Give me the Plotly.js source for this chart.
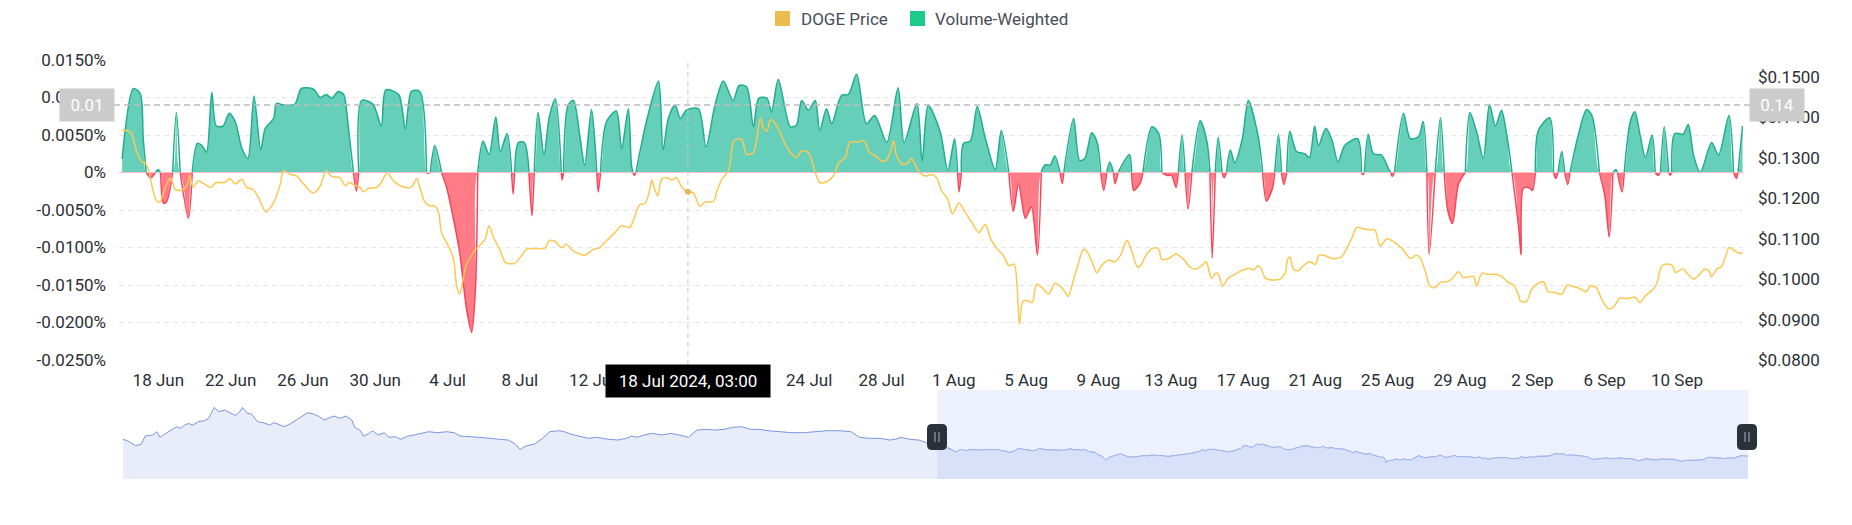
<!DOCTYPE html>
<html><head><meta charset="utf-8">
<script src="https://cdn.plot.ly/plotly-3.0.1.min.js"></script>
<style>html,body{margin:0;padding:0;background:#fff}#chart{width:1852px;height:525px}</style>
</head><body><div id="chart"></div>
<script>
// ---------------- DATA ----------------
const seriesNames = ['DOGE Price', 'Volume-Weighted'];

const vwTimes = [
'2024-06-16 00','2024-06-16 15','2024-06-17 00','2024-06-17 04','2024-06-17 08','2024-06-17 14','2024-06-17 20','2024-06-18 00',
'2024-06-18 03','2024-06-18 07','2024-06-18 11','2024-06-18 19','2024-06-19 00','2024-06-19 05','2024-06-19 16','2024-06-19 21',
'2024-06-20 04','2024-06-20 10','2024-06-20 16','2024-06-20 23','2024-06-21 05','2024-06-21 14','2024-06-21 22','2024-06-22 06',
'2024-06-22 15','2024-06-22 23','2024-06-23 07','2024-06-23 16','2024-06-23 22','2024-06-24 09','2024-06-24 13','2024-06-24 22',
'2024-06-25 13','2024-06-25 22','2024-06-26 14','2024-06-26 23','2024-06-27 07','2024-06-27 14','2024-06-27 23','2024-06-28 06',
'2024-06-28 08','2024-06-28 13','2024-06-28 19','2024-06-28 23','2024-06-29 02','2024-06-29 06','2024-06-29 21','2024-06-30 08',
'2024-06-30 14','2024-07-01 07','2024-07-01 16','2024-07-02 00','2024-07-02 11','2024-07-02 20','2024-07-02 22','2024-07-03 01',
'2024-07-03 07','2024-07-03 16','2024-07-03 23','2024-07-04 05','2024-07-04 16','2024-07-05 01','2024-07-05 08','2024-07-05 13',
'2024-07-05 16','2024-07-05 23','2024-07-06 07','2024-07-06 16','2024-07-06 22','2024-07-07 07','2024-07-07 13','2024-07-07 15',
'2024-07-07 17','2024-07-07 22','2024-07-08 06','2024-07-08 10','2024-07-08 12','2024-07-08 16','2024-07-08 19','2024-07-09 00',
'2024-07-09 08','2024-07-09 15','2024-07-09 23','2024-07-10 07','2024-07-10 08','2024-07-10 10','2024-07-10 16','2024-07-10 23',
'2024-07-11 08','2024-07-11 14','2024-07-11 23','2024-07-12 04','2024-07-12 06','2024-07-12 08','2024-07-12 11','2024-07-12 19',
'2024-07-13 08','2024-07-13 15','2024-07-14 00','2024-07-14 04','2024-07-14 06','2024-07-14 08','2024-07-14 10','2024-07-15 00',
'2024-07-15 16','2024-07-15 22','2024-07-16 05','2024-07-16 14','2024-07-16 21','2024-07-17 05','2024-07-17 21','2024-07-18 07',
'2024-07-18 19','2024-07-19 06','2024-07-19 19','2024-07-20 03','2024-07-20 13','2024-07-20 22','2024-07-21 05','2024-07-21 16',
'2024-07-21 22','2024-07-22 07','2024-07-22 23','2024-07-23 07','2024-07-23 14','2024-07-23 23','2024-07-24 08','2024-07-24 14',
'2024-07-24 23','2024-07-25 06','2024-07-25 19','2024-07-26 04','2024-07-26 15','2024-07-27 04','2024-07-27 15','2024-07-28 07',
'2024-07-28 22','2024-07-29 06','2024-07-29 23','2024-07-30 06','2024-07-30 14','2024-07-31 06','2024-07-31 16','2024-08-01 01',
'2024-08-01 05','2024-08-01 07','2024-08-01 10','2024-08-01 13','2024-08-01 22','2024-08-02 07','2024-08-02 18','2024-08-03 07',
'2024-08-03 15','2024-08-04 01','2024-08-04 07','2024-08-04 14','2024-08-04 23','2024-08-05 07','2024-08-05 15','2024-08-05 20',
'2024-08-06 01','2024-08-06 08','2024-08-06 14','2024-08-06 21','2024-08-07 00','2024-08-07 02','2024-08-07 15','2024-08-07 23',
'2024-08-08 06','2024-08-08 15','2024-08-08 22','2024-08-09 03','2024-08-09 07','2024-08-09 11','2024-08-09 15','2024-08-09 20',
'2024-08-09 22','2024-08-10 02','2024-08-10 17','2024-08-10 20','2024-08-10 23','2024-08-11 07','2024-08-11 11','2024-08-11 23',
'2024-08-12 08','2024-08-12 12','2024-08-12 19','2024-08-13 01','2024-08-13 07','2024-08-13 10','2024-08-13 15','2024-08-13 19',
'2024-08-13 23','2024-08-14 04','2024-08-14 15','2024-08-15 00','2024-08-15 04','2024-08-15 07','2024-08-15 11','2024-08-15 15',
'2024-08-15 20','2024-08-15 23','2024-08-16 02','2024-08-16 07','2024-08-16 13','2024-08-16 23','2024-08-17 07','2024-08-17 20',
'2024-08-18 02','2024-08-18 07','2024-08-18 15','2024-08-18 18','2024-08-18 23','2024-08-19 03','2024-08-19 06','2024-08-19 10',
'2024-08-19 14','2024-08-19 23','2024-08-20 10','2024-08-20 16','2024-08-20 23','2024-08-21 04','2024-08-21 14','2024-08-21 22',
'2024-08-22 06','2024-08-22 15','2024-08-23 08','2024-08-23 13','2024-08-23 15','2024-08-23 17','2024-08-23 22','2024-08-24 05',
'2024-08-24 16','2024-08-25 01','2024-08-25 04','2024-08-25 06','2024-08-25 09','2024-08-25 21','2024-08-26 06','2024-08-26 17',
'2024-08-26 23','2024-08-27 04','2024-08-27 07','2024-08-27 15','2024-08-27 22','2024-08-28 03','2024-08-28 08','2024-08-28 14',
'2024-08-28 22','2024-08-29 07','2024-08-29 13','2024-08-29 22','2024-08-30 07','2024-08-30 15','2024-08-30 23','2024-08-31 07',
'2024-08-31 14','2024-08-31 21','2024-09-01 06','2024-09-01 09','2024-09-01 12','2024-09-01 19','2024-09-02 00','2024-09-02 04',
'2024-09-02 08','2024-09-02 23','2024-09-03 04','2024-09-03 07','2024-09-03 10','2024-09-03 15','2024-09-03 19','2024-09-03 23',
'2024-09-04 02','2024-09-04 13','2024-09-05 00','2024-09-05 07','2024-09-05 17','2024-09-06 00','2024-09-06 06','2024-09-06 11',
'2024-09-06 15','2024-09-06 17','2024-09-06 23','2024-09-07 02','2024-09-07 10','2024-09-07 16','2024-09-07 23','2024-09-08 06',
'2024-09-08 15','2024-09-08 19','2024-09-08 23','2024-09-09 02','2024-09-09 07','2024-09-09 13','2024-09-09 15','2024-09-09 17',
'2024-09-09 21','2024-09-10 08','2024-09-10 15','2024-09-10 22','2024-09-11 07','2024-09-11 22','2024-09-12 07','2024-09-12 21',
'2024-09-13 03','2024-09-13 07','2024-09-13 09','2024-09-13 15'
];
// Volume-weighted value, in percent
const vwValues = [
0.0018,0.0112,0.0105,0.0045,0,-0.0007,0,0.0004,
0,-0.0041,-0.0039,0,0.0080,0,-0.0061,0,
0.0039,0.0036,0.0027,0.0107,0.0062,0.0062,0.0079,0.0068,
0.0032,0.0019,0.0102,0.0030,0.0059,0.0072,0.0092,0.0090,
0.0091,0.0112,0.0111,0.0100,0.0104,0.0099,0.0108,0.0104,
0.0097,0.0054,0,-0.0025,0,0.0096,0.0091,0.0062,
0.0110,0.0104,0.0058,0.0108,0.0108,0,-0.0001,0,
0.0036,0,-0.0021,-0.0048,-0.0106,-0.0181,-0.0213,-0.0155,
0,0.0042,0.0024,0.0074,0.0028,0.0052,0,-0.0029,
0,0.0040,0.0040,0.0023,0,-0.0058,0,0.0080,
0.0024,0.0074,0.0098,0,-0.0010,0,0.0090,0.0096,
0.0045,0.0010,0.0084,0.0034,0,-0.0026,0,0.0068,
0.0082,0.0032,0.0085,0.0010,0,-0.0004,0,0.0068,
0.0122,0.0030,0.0072,0.0090,0.0072,0.0083,0.0085,0.0034,
0.0090,0.0122,0.0096,0.0116,0.0114,0.0061,0.0099,0.0099,
0.0081,0.0124,0.0061,0.0063,0.0096,0.0083,0.0096,0.0056,
0.0085,0.0065,0.0103,0.0104,0.0131,0.0065,0.0076,0.0040,
0.0113,0.0040,0.0092,0.0015,0.0090,0.0054,0.0003,0.0045,
0,-0.0026,0,0.0039,0.0042,0.0088,0.0045,0.0004,
0.0056,0,-0.0052,-0.0015,-0.0061,-0.0046,-0.0110,0,
0.0010,0.0010,0.0022,0,-0.0015,0,0.0072,0.0016,
0.0019,0.0053,0.0041,0,-0.0024,0,0.0014,0,
-0.0015,0,0.0024,0,-0.0024,-0.0015,0,0.0061,
0.0052,0,-0.0004,-0.0004,-0.0020,0,0.0050,0,
-0.0049,0,0.0069,0.0041,0,-0.0114,0,0.0047,
0,-0.0007,0,0.0030,0.0013,0.0045,0.0096,0.0048,
0,-0.0038,-0.0021,0,0.0051,0,-0.0016,0,
0.0055,0.0028,0.0025,0.0020,0.0062,0.0036,0.0059,0.0043,
0.0014,0.0036,0.0045,0,-0.0003,0,0.0051,0.0025,
0.0023,0.0005,0,-0.0005,0,0.0079,0.0045,0.0048,
0.0068,0,-0.0109,0,0.0073,0,-0.0052,-0.0068,
-0.0015,0,0.0080,0.0054,0.0019,0.0091,0.0062,0.0083,
0.0050,0,-0.0075,-0.0110,-0.0021,-0.0020,-0.0024,0,
0.0056,0.0073,0,-0.0008,0,0.0028,0,-0.0016,
0,0.0050,0.0084,0.0076,0,-0.0030,-0.0086,0,
0.0004,0,-0.0026,0,0.0068,0.0081,0.0050,0.0020,
0.0050,0,-0.0004,0,0.0061,0,-0.0004,0,
0.0052,0.0051,0.0064,0.0023,0,0.0040,0.0023,0.0076,
0,-0.0008,0,0.0062
];

const priceTimes = [
'2024-06-16 00','2024-06-16 11','2024-06-16 19','2024-06-17 02','2024-06-17 06','2024-06-17 11','2024-06-17 15','2024-06-17 21',
'2024-06-18 02','2024-06-18 06','2024-06-18 11','2024-06-18 16','2024-06-18 19','2024-06-18 22','2024-06-19 07','2024-06-19 14',
'2024-06-19 18','2024-06-19 22','2024-06-20 05','2024-06-20 12','2024-06-20 21','2024-06-21 05','2024-06-21 16','2024-06-21 23',
'2024-06-22 06','2024-06-22 15','2024-06-22 21','2024-06-23 06','2024-06-23 13','2024-06-23 23','2024-06-24 09','2024-06-24 18',
'2024-06-24 22','2024-06-25 07','2024-06-25 16','2024-06-26 01','2024-06-26 14','2024-06-26 23','2024-06-27 07','2024-06-27 14',
'2024-06-28 01','2024-06-28 08','2024-06-28 14','2024-06-28 21','2024-06-29 04','2024-06-29 08','2024-06-29 15','2024-06-30 02',
'2024-06-30 08','2024-06-30 16','2024-07-01 00','2024-07-01 13','2024-07-02 00','2024-07-02 07','2024-07-02 10','2024-07-02 18',
'2024-07-03 01','2024-07-03 07','2024-07-03 12','2024-07-03 16','2024-07-04 01','2024-07-04 08','2024-07-04 12','2024-07-04 16',
'2024-07-04 21','2024-07-05 01','2024-07-05 08','2024-07-05 12','2024-07-05 19','2024-07-06 02','2024-07-06 07','2024-07-06 14',
'2024-07-06 22','2024-07-07 05','2024-07-07 17','2024-07-08 02','2024-07-08 09','2024-07-08 18','2024-07-09 09','2024-07-09 15',
'2024-07-09 23','2024-07-10 07','2024-07-10 14','2024-07-10 21','2024-07-11 06','2024-07-11 14','2024-07-12 02','2024-07-12 08',
'2024-07-12 19','2024-07-13 06','2024-07-13 15','2024-07-14 02','2024-07-14 07','2024-07-14 15','2024-07-14 22','2024-07-15 03',
'2024-07-15 07','2024-07-15 11','2024-07-15 15','2024-07-15 20','2024-07-16 03','2024-07-16 10','2024-07-16 16','2024-07-16 23',
'2024-07-17 07','2024-07-17 14','2024-07-17 23','2024-07-18 06','2024-07-18 17','2024-07-18 21','2024-07-19 04','2024-07-19 13',
'2024-07-19 20','2024-07-20 06','2024-07-20 13','2024-07-20 22','2024-07-21 07','2024-07-21 11','2024-07-21 16','2024-07-21 21',
'2024-07-22 05','2024-07-22 14','2024-07-22 23','2024-07-23 07','2024-07-23 14','2024-07-23 23','2024-07-24 08','2024-07-24 14',
'2024-07-24 23','2024-07-25 08','2024-07-25 15','2024-07-26 00','2024-07-26 06','2024-07-26 15','2024-07-27 01','2024-07-27 08',
'2024-07-27 16','2024-07-28 00','2024-07-28 07','2024-07-28 13','2024-07-28 16','2024-07-28 20','2024-07-29 04','2024-07-29 11',
'2024-07-29 16','2024-07-30 01','2024-07-30 10','2024-07-30 19','2024-07-31 01','2024-07-31 08','2024-07-31 16','2024-07-31 22',
'2024-08-01 07','2024-08-01 15','2024-08-02 00','2024-08-02 09','2024-08-02 18','2024-08-03 01','2024-08-03 10','2024-08-03 18',
'2024-08-04 01','2024-08-04 08','2024-08-04 12','2024-08-04 15','2024-08-04 20','2024-08-05 03','2024-08-05 08','2024-08-05 14',
'2024-08-05 21','2024-08-06 06','2024-08-06 14','2024-08-06 21','2024-08-07 04','2024-08-07 08','2024-08-07 15','2024-08-07 21',
'2024-08-08 04','2024-08-08 08','2024-08-08 15','2024-08-08 22','2024-08-09 04','2024-08-09 13','2024-08-09 22','2024-08-10 05',
'2024-08-10 14','2024-08-10 20','2024-08-11 04','2024-08-11 09','2024-08-11 16','2024-08-12 01','2024-08-12 08','2024-08-12 12',
'2024-08-12 21','2024-08-13 07','2024-08-13 17','2024-08-14 02','2024-08-14 10','2024-08-14 17','2024-08-14 23','2024-08-15 02',
'2024-08-15 06','2024-08-15 12','2024-08-15 15','2024-08-15 21','2024-08-16 04','2024-08-16 13','2024-08-16 22','2024-08-17 07',
'2024-08-17 14','2024-08-17 20','2024-08-17 23','2024-08-18 06','2024-08-18 16','2024-08-19 01','2024-08-19 08','2024-08-19 11',
'2024-08-19 14','2024-08-19 19','2024-08-20 01','2024-08-20 08','2024-08-20 15','2024-08-20 19','2024-08-21 00','2024-08-21 05',
'2024-08-21 13','2024-08-21 22','2024-08-22 09','2024-08-22 15','2024-08-23 00','2024-08-23 07','2024-08-23 16','2024-08-24 01',
'2024-08-24 07','2024-08-24 14','2024-08-24 23','2024-08-25 08','2024-08-25 19','2024-08-26 06','2024-08-26 14','2024-08-26 19',
'2024-08-27 02','2024-08-27 08','2024-08-27 15','2024-08-27 22','2024-08-28 06','2024-08-28 13','2024-08-28 22','2024-08-29 04',
'2024-08-29 13','2024-08-29 18','2024-08-29 22','2024-08-30 05','2024-08-30 11','2024-08-30 23','2024-08-31 07','2024-08-31 15',
'2024-08-31 23','2024-09-01 06','2024-09-01 08','2024-09-01 16','2024-09-01 23','2024-09-02 08','2024-09-02 15','2024-09-02 21',
'2024-09-03 06','2024-09-03 15','2024-09-03 22','2024-09-04 06','2024-09-04 15','2024-09-04 23','2024-09-05 05','2024-09-05 13',
'2024-09-05 20','2024-09-06 05','2024-09-06 12','2024-09-06 20','2024-09-07 05','2024-09-07 16','2024-09-07 23','2024-09-08 06',
'2024-09-08 14','2024-09-08 21','2024-09-09 04','2024-09-09 13','2024-09-09 18','2024-09-09 22','2024-09-10 08','2024-09-10 13',
'2024-09-10 22','2024-09-11 04','2024-09-11 13','2024-09-11 18','2024-09-11 22','2024-09-12 05','2024-09-12 11','2024-09-12 16',
'2024-09-12 21','2024-09-13 03','2024-09-13 08','2024-09-13 15'
];
const priceValues = [
0.1369,0.1364,0.1317,0.1290,0.1288,0.1272,0.1235,0.1196,
0.1190,0.1208,0.1235,0.1251,0.1239,0.1222,0.1220,0.1231,
0.1257,0.1227,0.1243,0.1237,0.1227,0.1239,0.1239,0.1249,
0.1235,0.1247,0.1227,0.1221,0.1202,0.1166,0.1189,0.1235,
0.1268,0.1259,0.1255,0.1235,0.1213,0.1231,0.1268,0.1254,
0.1251,0.1231,0.1239,0.1232,0.1227,0.1216,0.1224,0.1227,
0.1239,0.1264,0.1243,0.1228,0.1228,0.1249,0.1235,0.1190,
0.1181,0.1181,0.1165,0.1115,0.1082,0.1049,0.0983,0.0963,
0.1004,0.1037,0.1059,0.1072,0.1084,0.1099,0.1132,0.1099,
0.1070,0.1041,0.1039,0.1058,0.1074,0.1076,0.1076,0.1095,
0.1093,0.1078,0.1086,0.1072,0.1063,0.1059,0.1074,0.1076,
0.1095,0.1115,0.1132,0.1128,0.1148,0.1184,0.1187,0.1210,
0.1245,0.1222,0.1206,0.1247,0.1251,0.1245,0.1251,0.1227,
0.1216,0.1214,0.1180,0.1191,0.1192,0.1214,0.1247,0.1268,
0.1342,0.1346,0.1309,0.1313,0.1398,0.1375,0.1367,0.1395,
0.1379,0.1342,0.1313,0.1301,0.1317,0.1313,0.1264,0.1239,
0.1241,0.1255,0.1287,0.1301,0.1339,0.1339,0.1342,0.1313,
0.1305,0.1292,0.1295,0.1321,0.1342,0.1305,0.1284,0.1288,
0.1298,0.1268,0.1255,0.1259,0.1251,0.1218,0.1198,0.1161,
0.1189,0.1165,0.1140,0.1115,0.1136,0.1099,0.1074,0.1058,
0.1033,0.1037,0.0983,0.0889,0.0946,0.0946,0.0942,0.0988,
0.0979,0.0963,0.0990,0.0983,0.0967,0.0957,0.1000,0.1037,
0.1074,0.1070,0.1045,0.1016,0.1033,0.1047,0.1043,0.1058,
0.1096,0.1070,0.1029,0.1037,0.1062,0.1077,0.1074,0.1048,
0.1051,0.1062,0.1049,0.1029,0.1025,0.1033,0.1043,0.1027,
0.1002,0.1015,0.1012,0.0983,0.1002,0.1012,0.1021,0.1027,
0.1023,0.1033,0.1029,0.1002,0.0998,0.1000,0.1016,0.1049,
0.1055,0.1025,0.1021,0.1033,0.1043,0.1041,0.1036,0.1059,
0.1058,0.1051,0.1053,0.1067,0.1100,0.1128,0.1124,0.1122,
0.1122,0.1082,0.1100,0.1092,0.1076,0.1051,0.1059,0.1053,
0.1018,0.0983,0.0979,0.0992,0.0993,0.1000,0.1018,0.1004,
0.1006,0.1007,0.0983,0.1015,0.1012,0.1012,0.1007,0.0993,
0.0985,0.0959,0.0946,0.0944,0.0975,0.0990,0.0993,0.0969,
0.0967,0.0963,0.0985,0.0982,0.0977,0.0969,0.0983,0.0979,
0.0950,0.0926,0.0932,0.0953,0.0952,0.0955,0.0942,0.0959,
0.0971,0.0988,0.1033,0.1037,0.1033,0.1016,0.1026,0.1015,
0.1000,0.1008,0.1025,0.1021,0.1006,0.1026,0.1031,0.1053,
0.1078,0.1072,0.1066,0.1064
];

// Earlier price history shown only in the range navigator
const navHistoryTimes = [
'2024-03-18 00','2024-03-18 12','2024-03-19 09','2024-03-20 00','2024-03-20 11','2024-03-21 07','2024-03-21 18','2024-03-22 02',
'2024-03-22 18','2024-03-23 10','2024-03-23 22','2024-03-24 09','2024-03-24 20','2024-03-25 06','2024-03-25 17','2024-03-26 08',
'2024-03-27 00','2024-03-27 11','2024-03-28 02','2024-03-28 14','2024-03-29 07','2024-03-29 22','2024-03-30 11','2024-03-30 22',
'2024-03-31 05','2024-03-31 18','2024-04-01 05','2024-04-01 21','2024-04-02 12','2024-04-03 05','2024-04-03 15','2024-04-04 03',
'2024-04-04 19','2024-04-05 11','2024-04-06 03','2024-04-06 19','2024-04-07 10','2024-04-08 02','2024-04-08 17','2024-04-09 05',
'2024-04-09 16','2024-04-10 08','2024-04-11 00','2024-04-11 16','2024-04-12 07','2024-04-12 15','2024-04-13 04','2024-04-13 14',
'2024-04-14 02','2024-04-14 14','2024-04-15 05','2024-04-15 21','2024-04-16 10','2024-04-17 02','2024-04-17 17','2024-04-18 12',
'2024-04-19 04','2024-04-20 03','2024-04-20 19','2024-04-21 19','2024-04-22 18','2024-04-23 15','2024-04-24 06','2024-04-25 09',
'2024-04-26 16','2024-04-27 15','2024-04-28 15','2024-04-29 14','2024-04-30 06','2024-04-30 22','2024-05-01 13','2024-05-02 12',
'2024-05-03 09','2024-05-04 04','2024-05-05 04','2024-05-05 19','2024-05-06 11','2024-05-07 10','2024-05-08 10','2024-05-09 09',
'2024-05-10 17','2024-05-11 16','2024-05-12 16','2024-05-13 05','2024-05-13 20','2024-05-14 14','2024-05-15 13','2024-05-16 13',
'2024-05-17 13','2024-05-18 12','2024-05-19 12','2024-05-20 11','2024-05-21 11','2024-05-22 10','2024-05-23 10','2024-05-24 09',
'2024-05-25 09','2024-05-26 09','2024-05-27 08','2024-05-28 07','2024-05-29 15','2024-05-30 22','2024-06-01 05','2024-06-02 12',
'2024-06-03 20','2024-06-05 04','2024-06-06 11','2024-06-07 10','2024-06-08 10','2024-06-09 17','2024-06-10 17','2024-06-11 07',
'2024-06-12 00','2024-06-13 00','2024-06-13 23','2024-06-14 19','2024-06-15 12'
];
const navHistoryPrices = [
0.1522,0.1486,0.1351,0.1387,0.1613,0.1640,0.1730,0.1577,
0.1685,0.1793,0.1866,0.1820,0.1911,0.1956,0.1911,0.2001,
0.2028,0.2091,0.2389,0.2272,0.2317,0.2227,0.2173,0.2272,
0.2389,0.2227,0.2209,0.2001,0.1974,0.1911,0.1974,0.1938,
0.1866,0.1938,0.2046,0.2155,0.2245,0.2209,0.2137,0.2046,
0.2091,0.2155,0.2091,0.2155,0.2046,0.1848,0.1775,0.1613,
0.1667,0.1757,0.1640,0.1703,0.1577,0.1595,0.1522,0.1613,
0.1640,0.1685,0.1730,0.1703,0.1730,0.1703,0.1613,0.1595,
0.1577,0.1550,0.1522,0.1504,0.1414,0.1252,0.1342,0.1396,
0.1550,0.1730,0.1757,0.1730,0.1667,0.1613,0.1550,0.1577,
0.1522,0.1504,0.1550,0.1613,0.1577,0.1640,0.1685,0.1640,
0.1685,0.1640,0.1577,0.1775,0.1793,0.1775,0.1793,0.1848,
0.1866,0.1793,0.1793,0.1757,0.1730,0.1703,0.1703,0.1730,
0.1757,0.1757,0.1730,0.1577,0.1550,0.1550,0.1504,0.1522,
0.1577,0.1522,0.1504,0.1432,0.1390
];

const leftTickValues = [-0.025,-0.02,-0.015,-0.01,-0.005,0,0.005,0.01,0.015];
const leftTickLabels = ['-0.0250%','-0.0200%','-0.0150%','-0.0100%','-0.0050%','0%','0.0050%','0.0100%','0.0150%'];
const priceTickValues = [0.08,0.09,0.10,0.11,0.12,0.13,0.14,0.15];
const priceTickLabels = ['$0.0800','$0.0900','$0.1000','$0.1100','$0.1200','$0.1300','$0.1400','$0.1500'];
// date tick marks (16 Jul and 20 Jul sit under the tooltip box and are not drawn)
const xTickDates = ['2024-06-18','2024-06-22','2024-06-26','2024-06-30','2024-07-04','2024-07-08','2024-07-12',
  '2024-07-24','2024-07-28','2024-08-01','2024-08-05','2024-08-09','2024-08-13','2024-08-17','2024-08-21',
  '2024-08-25','2024-08-29','2024-09-02','2024-09-06','2024-09-10'];

// crosshair / tooltip state shown in the picture
const crossTime = '2024-07-17 07';
const crossLabel = '18 Jul 2024, 03:00';
const crossVW = 0.009;
const crossVWLabel = '0.01';
const crossPriceLabel = '0.14';

// ---------------- LAYOUT HELPERS ----------------
const W = 1852, H = 525;
const PL = 119, PR = 1748, PT = 60, PB = 479;      // paper box in pixels
const px = x => (x - PL) / (PR - PL);
const py = y => (PB - y) / (PB - PT);
const mainRight = px(1743);

const GREEN_LINE = '#1fae8d', GREEN_FILL = '#66cfba';
const RED_LINE = '#f6465d', RED_FILL = '#ff7b85';
const PRICE_LINE = '#fcc850';
const FONT = 'Roboto, "Noto Sans", Arial, sans-serif';

const posFill = vwValues.map(v => Math.max(v, 0));
const negFill = vwValues.map(v => Math.min(v, 0));
const posLine = vwValues.map(v => v >= 0 ? v : null);
const negLine = vwValues.map(v => v <= 0 ? v : null);

const navTimes = navHistoryTimes.concat(priceTimes);
const navPrices = navHistoryPrices.concat(priceValues);
const crossIdx = priceTimes.indexOf(crossTime);

const spl = {shape: 'spline', smoothing: 0.8};
const traces = [
  {x: vwTimes, y: posFill, type: 'scatter', mode: 'lines', fill: 'tozeroy', fillcolor: GREEN_FILL,
   line: Object.assign({width: 0, color: GREEN_FILL}, spl), hoverinfo: 'skip', name: seriesNames[1]},
  {x: vwTimes, y: negFill, type: 'scatter', mode: 'lines', fill: 'tozeroy', fillcolor: RED_FILL,
   line: Object.assign({width: 0, color: RED_FILL}, spl), hoverinfo: 'skip'},
  {x: vwTimes, y: posLine, type: 'scatter', mode: 'lines', connectgaps: false,
   line: Object.assign({width: 1.5, color: GREEN_LINE}, spl), hoverinfo: 'skip'},
  {x: vwTimes, y: negLine, type: 'scatter', mode: 'lines', connectgaps: false,
   line: Object.assign({width: 1.5, color: RED_LINE}, spl), hoverinfo: 'skip'},
  {x: priceTimes, y: priceValues, yaxis: 'y2', type: 'scatter', mode: 'lines', name: seriesNames[0],
   line: Object.assign({width: 1.5, color: PRICE_LINE}, spl), hoverinfo: 'skip'},
  {x: [priceTimes[crossIdx]], y: [priceValues[crossIdx]], yaxis: 'y2', type: 'scatter', mode: 'markers',
   marker: {size: 6, color: '#e9b443'}, hoverinfo: 'skip'},
  // navigator
  {x: navTimes, y: navPrices, xaxis: 'x2', yaxis: 'y3', type: 'scatter', mode: 'lines', fill: 'tozeroy',
   fillcolor: '#e8edf9', line: {width: 1, color: '#7896e2'}, hoverinfo: 'skip'},
  {x: priceTimes, y: priceValues, xaxis: 'x2', yaxis: 'y3', type: 'scatter', mode: 'lines', fill: 'tozeroy',
   fillcolor: '#d9e1fa', line: {width: 1, color: '#a2b7f1'}, hoverinfo: 'skip'}
];

const handlePath = 'M -5,-13 L 5,-13 Q 10,-13 10,-8 L 10,8 Q 10,13 5,13 L -5,13 Q -10,13 -10,8 L -10,-8 Q -10,-13 -5,-13 Z';
const gripPath = 'M -2,-5 L -2,5 M 2,-5 L 2,5';
const handleY = py(437);
function handle(centerPx) {
  const xa = px(centerPx);
  return [
    {type: 'path', xref: 'paper', xsizemode: 'pixel', xanchor: xa, yref: 'paper', ysizemode: 'pixel', yanchor: handleY,
     path: handlePath, fillcolor: '#2b3139', line: {width: 0}, layer: 'above'},
    {type: 'path', xref: 'paper', xsizemode: 'pixel', xanchor: xa, yref: 'paper', ysizemode: 'pixel', yanchor: handleY,
     path: gripPath, line: {width: 1, color: '#aab1bb'}, layer: 'above'}
  ];
}

const shapes = [
  {type: 'rect', xref: 'x2', yref: 'paper', x0: priceTimes[0], x1: priceTimes[priceTimes.length - 1],
   y0: 0, y1: py(390), fillcolor: '#edf1fd', line: {width: 0}, layer: 'below'},
  {type: 'line', xref: 'paper', yref: 'y', x0: 0, x1: mainRight, y0: 0, y1: 0,
   line: {color: '#f8bec3', width: 1}, layer: 'above'},
  {type: 'line', xref: 'paper', yref: 'y', x0: px(114), x1: px(1750), y0: crossVW, y1: crossVW,
   line: {color: '#bdbdbd', width: 1.5, dash: '6px,4px'}, layer: 'above'},
  {type: 'line', xref: 'x', yref: 'paper', x0: crossTime, x1: crossTime, y0: py(365), y1: py(60),
   line: {color: '#c6c6c6', width: 1, dash: '5px,4px'}, layer: 'above'},
  {type: 'rect', xref: 'paper', yref: 'paper', x0: px(775), x1: px(790), y0: py(26), y1: py(11),
   fillcolor: '#ebbc4e', line: {width: 0}},
  {type: 'rect', xref: 'paper', yref: 'paper', x0: px(910), x1: px(925), y0: py(26), y1: py(11),
   fillcolor: '#1ec98c', line: {width: 0}}
].concat(handle(937), handle(1747));

const annotations = [
  {xref: 'paper', yref: 'paper', x: px(799), y: py(18.5), xanchor: 'left', yanchor: 'middle', showarrow: false,
   text: seriesNames[0], font: {family: FONT, size: 17, color: '#474d57'}},
  {xref: 'paper', yref: 'paper', x: px(933), y: py(18.5), xanchor: 'left', yanchor: 'middle', showarrow: false,
   text: seriesNames[1], font: {family: FONT, size: 17, color: '#474d57'}},
  {xref: 'x', yref: 'paper', x: crossTime, y: py(381), xanchor: 'center', yanchor: 'middle', showarrow: false,
   text: crossLabel, bgcolor: '#000000', borderpad: 6, width: 152, height: 20,
   font: {family: FONT, size: 17, color: '#ffffff'}},
  {xref: 'paper', yref: 'y', x: px(87), y: crossVW, xanchor: 'center', yanchor: 'middle', showarrow: false,
   text: crossVWLabel, bgcolor: '#cbcbcb', borderpad: 6, width: 42, height: 20,
   font: {family: FONT, size: 17, color: '#ffffff'}},
  {xref: 'paper', yref: 'y', x: px(1777), y: crossVW, xanchor: 'center', yanchor: 'middle', showarrow: false,
   text: crossPriceLabel, bgcolor: '#cbcbcb', borderpad: 6, width: 42, height: 20,
   font: {family: FONT, size: 17, color: '#ffffff'}}
];

const layout = {
  width: W, height: H, autosize: false,
  margin: {l: PL, r: W - PR, t: PT, b: H - PB, pad: 0},
  paper_bgcolor: '#ffffff', plot_bgcolor: 'rgba(0,0,0,0)',
  showlegend: false, hovermode: false,
  font: {family: FONT, size: 17, color: '#2b2f36'},
  xaxis: {type: 'date', domain: [0, mainRight], anchor: 'y',
    range: ['2024-06-15 19:49', '2024-09-13 15:36'],
    tickmode: 'array', tickvals: xTickDates, tickformat: '%-d %b',
    showgrid: false, zeroline: false, showline: false, ticks: '', ticklabelstandoff: 8,
    tickfont: {family: FONT, size: 17, color: '#2b2f36'}},
  yaxis: {domain: [py(360), 1], range: [-0.025, 0.015], anchor: 'x',
    tickmode: 'array', tickvals: leftTickValues, ticktext: leftTickLabels,
    showgrid: true, gridcolor: '#e6e6e6', gridwidth: 1, griddash: '5px,4px',
    zeroline: false, showline: false, ticks: '', ticklabelstandoff: 12,
    tickfont: {family: FONT, size: 17, color: '#2b2f36'}},
  yaxis2: {overlaying: 'y', side: 'right', anchor: 'x', range: [0.08, 0.1542],
    tickmode: 'array', tickvals: priceTickValues, ticktext: priceTickLabels,
    showgrid: false, zeroline: false, showline: false, ticks: '', ticklabelstandoff: 14,
    tickfont: {family: FONT, size: 17, color: '#2b2f36'}},
  xaxis2: {type: 'date', domain: [px(123), 1], anchor: 'y3',
    range: [navHistoryTimes[0], priceTimes[priceTimes.length - 1]], visible: false},
  yaxis3: {domain: [0, py(390)], anchor: 'x2', range: [0.0448, 0.286], visible: false},
  shapes: shapes,
  annotations: annotations
};

Plotly.newPlot('chart', traces, layout, {displayModeBar: false, staticPlot: true});
</script>
</body></html>
